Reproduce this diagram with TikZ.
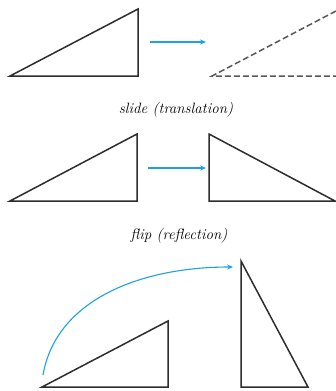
\documentclass[tikz,border=0pt]{standalone}
\usepackage{tikz}
\usetikzlibrary{arrows.meta}

\definecolor{motionblue}{RGB}{30,160,230}
\definecolor{edgegray}{RGB}{45,45,45}

\begin{document}
\begin{tikzpicture}[x=1pt, y=-1pt, every node/.style={font=\fontsize{15}{17}\selectfont\itshape},
	tri/.style={draw=edgegray, line width=1.5pt, line join=miter},
	ghost/.style={draw=edgegray!80, line width=1.5pt, dash pattern=on 6pt off 3pt},
	move/.style={draw=motionblue, line width=1.1pt, -{Stealth[length=6pt, width=5pt]}}]
	\useasboundingbox (0,0) rectangle (336,391);
	% slide
	\draw[tri] (10,76) -- (138,76) -- (138,9) -- cycle;
	\draw[ghost] (336,11) -- (212,76) -- (336,76);
	\coordinate (s1) at (150,42);
	\coordinate (s2) at (206,42);
	\draw[move] (s1) -- (s2);
	\node (slide) at (176,110) {slide (translation)};
	% flip
	\draw[tri] (10,201) -- (137,201) -- (137,134) -- cycle;
	\draw[tri] (209,134) -- (209,201) -- (335,201) -- cycle;
	\coordinate (f1) at (148,168);
	\coordinate (f2) at (206,168);
	\draw[move] (f1) -- (f2);
	\node (flip) at (179,236) {flip (reflection)};
	% turn
	\draw[tri] (42,387) -- (168,387) -- (168,321) -- cycle;
	\draw[tri] (241,261) -- (241,387) -- (308,387) -- cycle;
	\coordinate (t1) at (43,375);
	\coordinate (t2) at (233,267);
	\draw[move] (t1) .. controls (56,300) and (140,267) .. (t2);
\end{tikzpicture}
\end{document}
